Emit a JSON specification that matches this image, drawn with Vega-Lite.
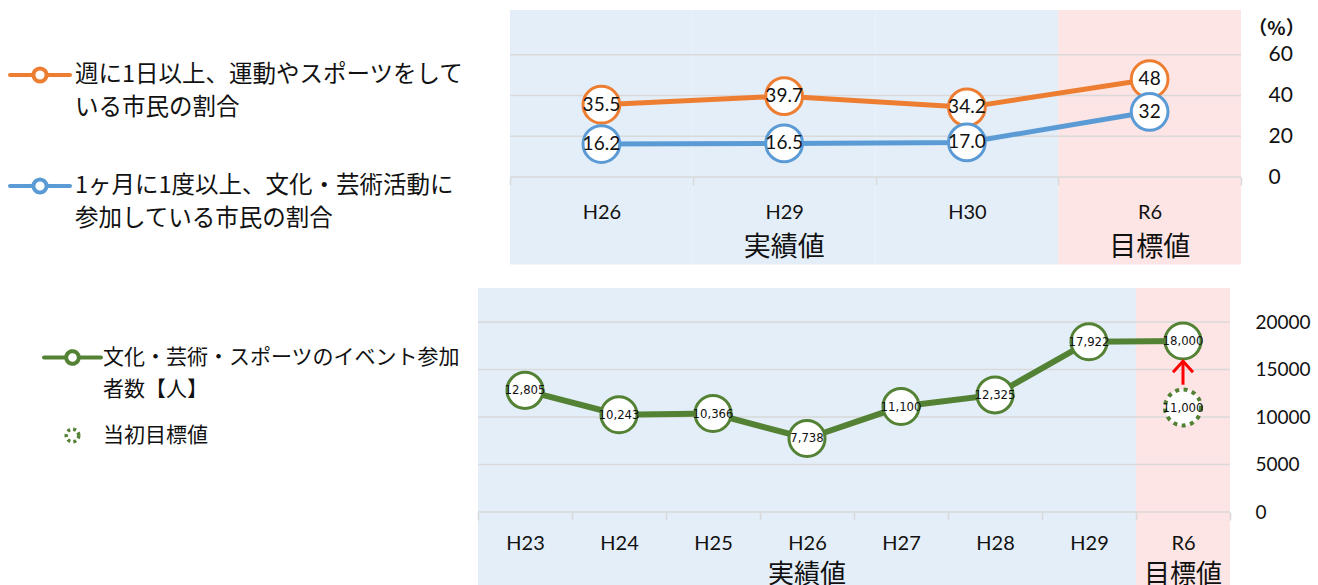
{
  "$schema": "https://vega.github.io/schema/vega-lite/v6.json",
  "background": "white",
  "padding": {"left": 8, "top": 10, "right": 0, "bottom": 0},
  "spacing": 23,
  "config": {"view": {"stroke": null}},
  "resolve": {"scale": {"stroke": "independent", "x": "independent", "y": "independent"}, "legend": {"stroke": "independent"}},
  "datasets": {
    "topCats": [
      {"cat": "H26", "grp": "実績値"},
      {"cat": "H29", "grp": "実績値"},
      {"cat": "H30", "grp": "実績値"},
      {"cat": "R6", "grp": "目標値"}
    ],
    "topGrid": [{"g": 0}, {"g": 20}, {"g": 40}, {"g": 60}],
    "topSeries": [
      {"cat": "H26", "series": "週に1日以上、運動やスポーツをしている市民の割合", "v": 35.5},
      {"cat": "H29", "series": "週に1日以上、運動やスポーツをしている市民の割合", "v": 39.7},
      {"cat": "H30", "series": "週に1日以上、運動やスポーツをしている市民の割合", "v": 34.2},
      {"cat": "R6", "series": "週に1日以上、運動やスポーツをしている市民の割合", "v": 48},
      {"cat": "H26", "series": "1ヶ月に1度以上、文化・芸術活動に参加している市民の割合", "v": 16.2},
      {"cat": "H29", "series": "1ヶ月に1度以上、文化・芸術活動に参加している市民の割合", "v": 16.5},
      {"cat": "H30", "series": "1ヶ月に1度以上、文化・芸術活動に参加している市民の割合", "v": 17.0},
      {"cat": "R6", "series": "1ヶ月に1度以上、文化・芸術活動に参加している市民の割合", "v": 32}
    ],
    "topGroups": [
      {"cat": "H29", "label": "実績値"},
      {"cat": "R6", "label": "目標値"}
    ],
    "botCats": [
      {"cat": "H23", "grp": "実績値"},
      {"cat": "H24", "grp": "実績値"},
      {"cat": "H25", "grp": "実績値"},
      {"cat": "H26", "grp": "実績値"},
      {"cat": "H27", "grp": "実績値"},
      {"cat": "H28", "grp": "実績値"},
      {"cat": "H29", "grp": "実績値"},
      {"cat": "R6", "grp": "目標値"}
    ],
    "botGrid": [{"g": 0}, {"g": 5000}, {"g": 10000}, {"g": 15000}, {"g": 20000}],
    "botSeries": [
      {"cat": "H23", "s": "文化・芸術・スポーツのイベント参加者数【人】", "v": 12805},
      {"cat": "H24", "s": "文化・芸術・スポーツのイベント参加者数【人】", "v": 10243},
      {"cat": "H25", "s": "文化・芸術・スポーツのイベント参加者数【人】", "v": 10366},
      {"cat": "H26", "s": "文化・芸術・スポーツのイベント参加者数【人】", "v": 7738},
      {"cat": "H27", "s": "文化・芸術・スポーツのイベント参加者数【人】", "v": 11100},
      {"cat": "H28", "s": "文化・芸術・スポーツのイベント参加者数【人】", "v": 12325},
      {"cat": "H29", "s": "文化・芸術・スポーツのイベント参加者数【人】", "v": 17922},
      {"cat": "R6", "s": "文化・芸術・スポーツのイベント参加者数【人】", "v": 18000},
      {"cat": "R6", "s": "当初目標値", "v": 11000}
    ],
    "botGroups": [
      {"cat": "H26", "label": "実績値"},
      {"cat": "R6", "label": "目標値"}
    ],
    "arrow": [{"cat": "R6", "from": 13400, "to": 15850, "head": 15300}]
  },
  "vconcat": [
    {
      "width": 763,
      "height": 167,
      "layer": [
        {
          "data": {"name": "topCats"},
          "mark": {"type": "rect"},
          "encoding": {
            "x": {
              "field": "cat", "type": "nominal", "sort": null,
              "scale": {"domain": ["H26", "H29", "H30", "R6"], "paddingInner": 0, "paddingOuter": 0.0876, "align": 1},
              "axis": {"title": null, "domain": false, "grid": false, "ticks": true, "tickBand": "extent", "tickColor": "#D9D9D9", "tickSize": 8, "tickWidth": 1.5, "labelFont": "Lato", "labelFontSize": 20, "labelColor": "#111", "labelPadding": 17, "labelAngle": 0, "zindex": 1}
            },
            "y": {
              "datum": 82, "type": "quantitative",
              "scale": {"domain": [0, 82], "nice": false, "zero": false},
              "axis": {"orient": "right", "values": [0, 20, 40, 60], "grid": false, "domain": false, "ticks": false, "labelFont": "Lato", "labelFontSize": 21, "labelColor": "#111", "labelPadding": 27, "title": "（%）", "titleAngle": 0, "titleX": 35, "titleY": 18, "titleAlign": "center", "titleBaseline": "middle", "titleFont": "Noto Sans CJK JP", "titleFontSize": 19, "titleFontWeight": "bold", "titleColor": "#111", "zindex": 1}
            },
            "y2": {"datum": -43},
            "fill": {"condition": {"test": "datum.grp === '目標値'", "value": "#FDE5E5"}, "value": "#E4EEF8"}
          }
        },
        {
          "data": {"name": "topGrid"},
          "mark": {"type": "rule", "color": "#D9D9D9", "strokeWidth": 1.5},
          "encoding": {
            "x": {"datum": "H26", "bandPosition": 0},
            "x2": {"datum": "R6", "bandPosition": 1},
            "y": {"field": "g", "type": "quantitative"}
          }
        },
        {
          "data": {"name": "topSeries"},
          "mark": {"type": "line", "strokeWidth": 5},
          "encoding": {
            "x": {"field": "cat", "type": "nominal", "sort": null},
            "y": {"field": "v", "type": "quantitative"},
            "stroke": {
              "field": "series", "type": "nominal", "sort": null,
              "scale": {"domain": ["週に1日以上、運動やスポーツをしている市民の割合", "1ヶ月に1度以上、文化・芸術活動に参加している市民の割合"], "range": ["#ED7D31", "#5B9BD5"]},
              "legend": {
                "orient": "none", "legendX": -470, "legendY": 33, "title": null, "direction": "vertical", "padding": 0,
                "symbolType": "M-1,0H-0.22M0.22,0H1M0.22,0A0.22,0.22,0,1,1,-0.22,0A0.22,0.22,0,1,1,0.22,0",
                "symbolSize": 3600, "symbolStrokeWidth": 4, "symbolFillColor": "white", "symbolOpacity": 1,
                "labelFont": "Noto Sans CJK JP", "labelFontSize": 23.5, "labelColor": "#111", "labelLimit": 700, "labelOffset": 3,
                "rowPadding": 34,
                "labelExpr": "length(datum.label) > 17 ? [substring(datum.label, 0, 17), substring(datum.label, 17)] : datum.label",
                "encode": {
                  "labels": {"update": {"lineHeight": {"value": 33}}},
                  "symbols": {"update": {"strokeCap": {"value": "round"}}}
                }
              }
            }
          }
        },
        {
          "data": {"name": "topSeries"},
          "mark": {"type": "point", "shape": "circle", "filled": true, "fill": "white", "size": 1350, "strokeWidth": 3, "opacity": 1},
          "encoding": {
            "x": {"field": "cat", "type": "nominal", "sort": null},
            "y": {"field": "v", "type": "quantitative"},
            "stroke": {"field": "series", "type": "nominal", "sort": null}
          }
        },
        {
          "data": {"name": "topSeries"},
          "mark": {"type": "text", "font": "Lato", "fontSize": 19, "color": "#111", "baseline": "middle", "align": "center"},
          "encoding": {
            "x": {"field": "cat", "type": "nominal", "sort": null},
            "y": {"field": "v", "type": "quantitative"},
            "text": {"condition": {"test": "datum.cat === 'R6'", "field": "v", "type": "quantitative", "format": "d"}, "field": "v", "type": "quantitative", "format": ".1f"}
          }
        },
        {
          "data": {"name": "topGroups"},
          "mark": {"type": "text", "font": "Noto Sans CJK JP", "fontSize": 27, "color": "#111", "baseline": "middle", "align": "center"},
          "encoding": {
            "x": {"field": "cat", "type": "nominal", "sort": null},
            "y": {"datum": -35},
            "text": {"field": "label"}
          }
        }
      ]
    },
    {
      "width": 752,
      "height": 224,
      "layer": [
        {
          "data": {"name": "botCats"},
          "mark": {"type": "rect"},
          "encoding": {
            "x": {
              "field": "cat", "type": "nominal", "sort": null,
              "scale": {"domain": ["H23", "H24", "H25", "H26", "H27", "H28", "H29", "R6"], "paddingInner": 0, "paddingOuter": 0},
              "axis": {"title": null, "domain": false, "grid": false, "ticks": true, "tickBand": "extent", "tickColor": "#D9D9D9", "tickSize": 8, "tickWidth": 1.5, "labelFont": "Lato", "labelFontSize": 20, "labelColor": "#111", "labelPadding": 13, "labelAngle": 0, "zindex": 1}
            },
            "y": {
              "datum": 23580, "type": "quantitative",
              "scale": {"domain": [0, 23580], "nice": false, "zero": false},
              "axis": {"orient": "right", "values": [0, 5000, 10000, 15000, 20000], "format": "d", "grid": false, "domain": false, "ticks": false, "labelFont": "Lato", "labelFontSize": 19, "labelColor": "#111", "labelPadding": 25, "title": null, "zindex": 1}
            },
            "y2": {"datum": -8000},
            "fill": {"condition": {"test": "datum.grp === '目標値'", "value": "#FDE5E5"}, "value": "#E4EEF8"}
          }
        },
        {
          "data": {"name": "botGrid"},
          "mark": {"type": "rule", "color": "#D9D9D9", "strokeWidth": 1.5},
          "encoding": {
            "y": {"field": "g", "type": "quantitative"}
          }
        },
        {
          "data": {"name": "botSeries"},
          "transform": [{"filter": "datum.s !== '当初目標値'"}],
          "mark": {"type": "line", "strokeWidth": 6},
          "encoding": {
            "x": {"field": "cat", "type": "nominal", "sort": null},
            "y": {"field": "v", "type": "quantitative"},
            "stroke": {
              "field": "s", "type": "nominal", "sort": null,
              "scale": {"domain": ["文化・芸術・スポーツのイベント参加者数【人】", "当初目標値"], "range": ["#548235", "#548235"]},
              "legend": {
                "orient": "none", "legendX": -416, "legendY": 59, "title": null, "direction": "vertical", "padding": 0,
                "symbolType": "M-1,0H-0.22M0.22,0H1M0.22,0A0.22,0.22,0,1,1,-0.22,0A0.22,0.22,0,1,1,0.22,0",
                "symbolSize": 3249, "symbolStrokeWidth": 4, "symbolFillColor": "white", "symbolOpacity": 1,
                "labelFont": "Noto Sans CJK JP", "labelFontSize": 21, "labelColor": "#111", "labelLimit": 700, "labelOffset": 20,
                "rowPadding": 22,
                "labelExpr": "length(datum.label) > 17 ? [substring(datum.label, 0, 17), substring(datum.label, 17)] : datum.label",
                "encode": {
                  "labels": {"update": {"lineHeight": {"value": 32}}},
                  "symbols": {"update": {
                    "strokeCap": {"signal": "datum.value === '当初目標値' ? 'butt' : 'round'"},
                    "shape": {"signal": "datum.value === '当初目標値' ? 'M0.22,0A0.22,0.22,0,1,1,-0.22,0A0.22,0.22,0,1,1,0.22,0' : 'M-1,0H-0.22M0.22,0H1M0.22,0A0.22,0.22,0,1,1,-0.22,0A0.22,0.22,0,1,1,0.22,0'"},
                    "strokeDash": {"signal": "datum.value === '当初目標値' ? [3, 3] : [1, 0]"},
                    "strokeWidth": {"signal": "datum.value === '当初目標値' ? 3.5 : 4"}
                  }}
                }
              }
            }
          }
        },
        {
          "data": {"name": "botSeries"},
          "transform": [{"filter": "datum.s !== '当初目標値'"}],
          "mark": {"type": "point", "shape": "circle", "filled": true, "fill": "white", "size": 1300, "strokeWidth": 3, "opacity": 1},
          "encoding": {
            "x": {"field": "cat", "type": "nominal", "sort": null},
            "y": {"field": "v", "type": "quantitative"},
            "stroke": {"field": "s", "type": "nominal", "sort": null}
          }
        },
        {
          "data": {"name": "botSeries"},
          "transform": [{"filter": "datum.s === '当初目標値'"}],
          "mark": {"type": "point", "shape": "circle", "filled": true, "fill": "white", "size": 1300, "strokeWidth": 4, "strokeDash": [4, 4.5], "opacity": 1},
          "encoding": {
            "x": {"field": "cat", "type": "nominal", "sort": null},
            "y": {"field": "v", "type": "quantitative"},
            "stroke": {"field": "s", "type": "nominal", "sort": null}
          }
        },
        {
          "data": {"name": "arrow"},
          "mark": {"type": "rule", "color": "#FF0000", "strokeWidth": 3},
          "encoding": {
            "x": {"field": "cat", "type": "nominal", "sort": null},
            "y": {"field": "from", "type": "quantitative"},
            "y2": {"field": "to"}
          }
        },
        {
          "data": {"name": "arrow"},
          "mark": {"type": "point", "shape": "M-1,0.55L0,-0.55L1,0.55", "filled": false, "color": "#FF0000", "size": 400, "strokeWidth": 3, "opacity": 1},
          "encoding": {
            "x": {"field": "cat", "type": "nominal", "sort": null},
            "y": {"field": "head", "type": "quantitative"}
          }
        },
        {
          "data": {"name": "botSeries"},
          "mark": {"type": "text", "font": "Liberation Sans Narrow, DejaVu Sans Condensed, sans-serif", "fontSize": 13, "color": "#111", "baseline": "middle", "align": "center"},
          "encoding": {
            "x": {"field": "cat", "type": "nominal", "sort": null},
            "y": {"field": "v", "type": "quantitative"},
            "text": {"field": "v", "type": "quantitative", "format": ",d"}
          }
        },
        {
          "data": {"name": "botGroups"},
          "mark": {"type": "text", "font": "Noto Sans CJK JP", "fontSize": 26, "color": "#111", "baseline": "middle", "align": "center"},
          "encoding": {
            "x": {"field": "cat", "type": "nominal", "sort": null},
            "y": {"datum": -6630},
            "text": {"field": "label"}
          }
        }
      ]
    }
  ]
}
